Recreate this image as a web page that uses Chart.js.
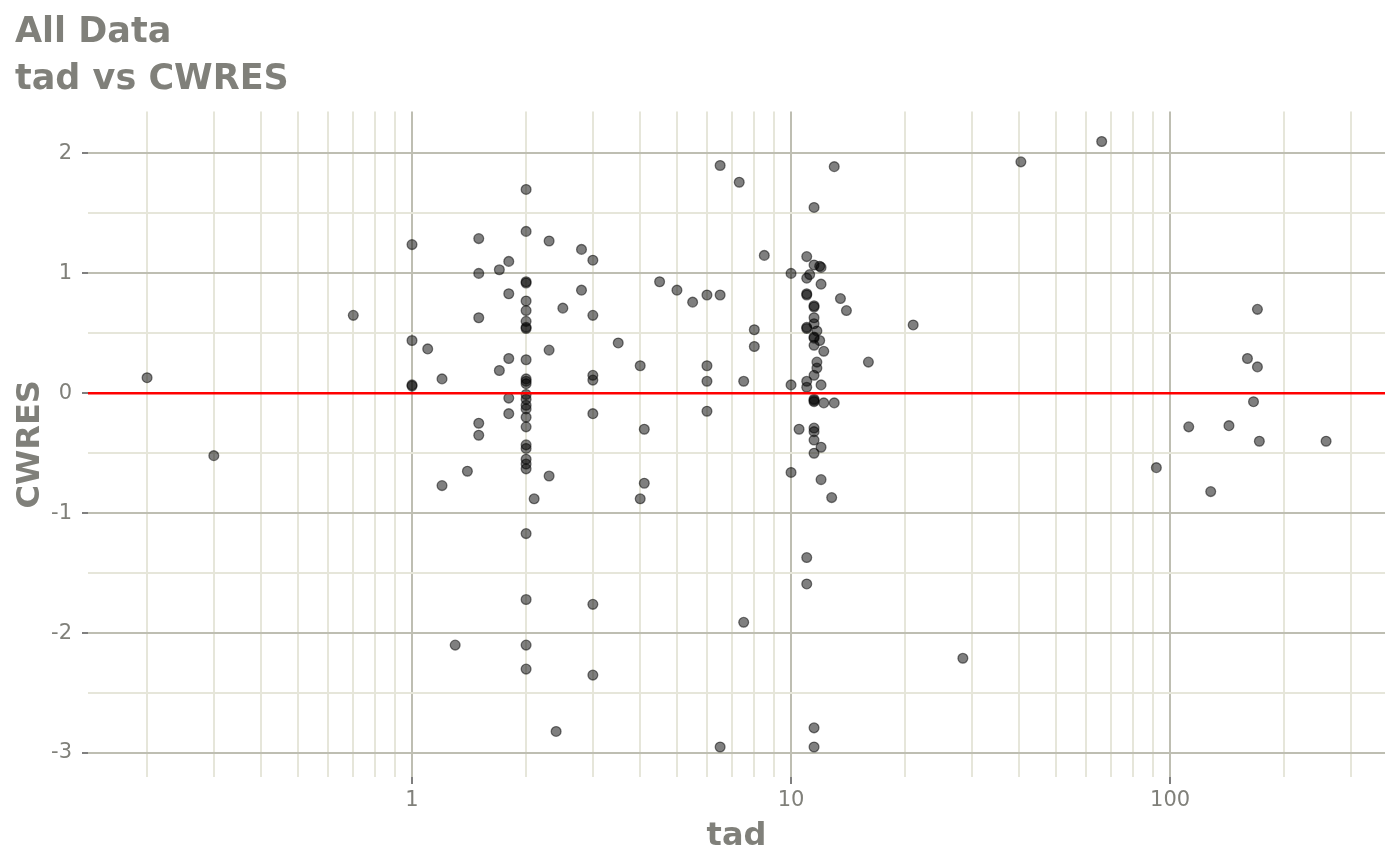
<!DOCTYPE html>
<html>
<head>
<meta charset="utf-8">
<script src="https://cdn.jsdelivr.net/npm/chart.js@4.4.1/dist/chart.umd.min.js"></script>
<style>
  html, body { margin: 0; padding: 0; background: #fff; }
  #wrap { width: 1400px; height: 865px; }
</style>
</head>
<body>
<div id="wrap"><canvas id="tad-cwres" width="1400" height="865"></canvas></div>
<script>
// time after dose (x) and conditional weighted residuals (y), one entry per observation
const tad = [
  0.2, 0.3, 0.7,
  1, 1, 1, 1, 1.1, 1.2, 1.2, 1.3, 1.4,
  1.5, 1.5, 1.5, 1.5, 1.5, 1.7, 1.7,
  1.8, 1.8, 1.8, 1.8, 1.8,
  2, 2, 2, 2, 2, 2, 2, 2, 2, 2, 2, 2, 2, 2,
  2, 2, 2, 2, 2, 2, 2, 2, 2, 2, 2, 2, 2, 2,
  2.1, 2.3, 2.3, 2.3, 2.4, 2.5, 2.8, 2.8,
  3, 3, 3, 3, 3, 3, 3, 3.5, 4, 4, 4.1, 4.1, 4.5, 5, 5.5,
  6, 6, 6, 6, 6.5, 6.5, 6.5, 7.3, 7.5, 7.5, 8, 8, 8.5,
  10, 10, 10, 10.5,
  11, 11, 11, 11, 11, 11, 11, 11, 11, 11, 11.2,
  11.5, 11.5, 11.5, 11.5, 11.5, 11.5, 11.5, 11.5, 11.5, 11.5,
  11.5, 11.5, 11.5, 11.5, 11.5, 11.5, 11.5, 11.5, 11.5,
  11.7, 11.7, 11.7, 11.9, 11.9, 12, 12, 12, 12, 12, 12.2, 12.2,
  12.8, 13, 13, 13.5, 14, 16, 21, 28.4, 40.4, 66,
  92, 112, 128, 143, 160, 166, 170, 170, 172, 258
];
const cwres = [
  0.13, -0.52, 0.65,
  1.24, 0.44, 0.07, 0.06, 0.37, 0.12, -0.77, -2.10, -0.65,
  1.29, 1.00, 0.63, -0.25, -0.35, 1.03, 0.19,
  1.10, 0.83, 0.29, -0.04, -0.17,
  1.70, 1.35, 0.93, 0.92, 0.77, 0.69, 0.60, 0.55, 0.54, 0.28, 0.12, 0.10, 0.08, -0.01,
  -0.05, -0.10, -0.13, -0.20, -0.28, -0.43, -0.46, -0.55, -0.59, -0.63, -1.17, -1.72, -2.10, -2.30,
  -0.88, 1.27, 0.36, -0.69, -2.82, 0.71, 1.20, 0.86,
  1.11, 0.65, 0.15, 0.11, -0.17, -1.76, -2.35, 0.42, 0.23, -0.88, -0.30, -0.75, 0.93, 0.86, 0.76,
  0.82, 0.23, 0.10, -0.15, 1.90, 0.82, -2.95, 1.76, 0.10, -1.91, 0.53, 0.39, 1.15,
  1.00, 0.07, -0.66, -0.30,
  1.14, 0.96, 0.83, 0.82, 0.55, 0.54, 0.10, 0.05, -1.37, -1.59, 0.99,
  1.55, 1.07, 0.73, 0.72, 0.63, 0.58, 0.47, 0.46, 0.40, 0.15,
  -0.05, -0.06, -0.07, -0.29, -0.32, -0.39, -0.50, -2.79, -2.95,
  0.52, 0.26, 0.21, 1.06, 0.44, 1.05, 0.91, 0.07, -0.45, -0.72, 0.35, -0.08,
  -0.87, 1.89, -0.08, 0.79, 0.69, 0.26, 0.57, -2.21, 1.93, 2.10,
  -0.62, -0.28, -0.82, -0.27, 0.29, -0.07, 0.70, 0.22, -0.40, -0.40
];

const xMajor = [1, 10, 100];
const xMinor = [0.2, 0.3, 0.4, 0.5, 0.6, 0.7, 0.8, 0.9,
                2, 3, 4, 5, 6, 7, 8, 9,
                20, 30, 40, 50, 60, 70, 80, 90,
                200, 300];
const yMajor = [-3, -2, -1, 0, 1, 2];
const yMinor = [-2.5, -1.5, -0.5, 0.5, 1.5];
const xLimits = [0.1397, 369];
const yLimits = [-3.2, 2.35];
const refLine = 0;

const textCol = '#80807a';
const majorGrid = '#bebeb2';
const minorGrid = '#e6e6da';
const tickCol = '#7f7f7f';
const fam = '"DejaVu Sans", sans-serif';

const points = tad.map((t, i) => ({ x: t, y: cwres[i] }));
const xTicks = xMinor.concat(xMajor).sort((a, b) => a - b);
const yTicks = yMinor.concat(yMajor).sort((a, b) => a - b);

new Chart(document.getElementById('tad-cwres'), {
  type: 'scatter',
  data: {
    datasets: [
      {
        // y = 0 reference line
        data: [{ x: xLimits[0], y: refLine }, { x: xLimits[1], y: refLine }],
        showLine: true,
        borderColor: '#ff0000',
        borderWidth: 2.6,
        pointRadius: 0,
        order: 0
      },
      {
        data: points,
        backgroundColor: 'rgba(0,0,0,0.5)',
        borderColor: 'rgba(0,0,0,0.5)',
        borderWidth: 1.3,
        pointRadius: 4.9,
        pointHoverRadius: 4.9,
        order: 1
      }
    ]
  },
  options: {
    responsive: false,
    animation: false,
    devicePixelRatio: 1,
    layout: { padding: { left: 15, right: 15, top: 0, bottom: 0 } },
    plugins: {
      legend: { display: false },
      tooltip: { enabled: false },
      title: {
        display: true,
        text: ['All Data', 'tad vs CWRES'],
        align: 'start',
        color: textCol,
        font: { family: fam, size: 35, weight: 'bold', lineHeight: 1.35 },
        padding: { top: 9, bottom: 8 }
      }
    },
    scales: {
      x: {
        type: 'logarithmic',
        min: xLimits[0],
        max: xLimits[1],
        afterBuildTicks: s => { s.ticks = xTicks.map(v => ({ value: v })); },
        afterFit: s => { s.height = 88; },
        border: { display: false },
        grid: {
          lineWidth: 2,
          color: c => xMajor.includes(c.tick.value) ? majorGrid : minorGrid,
          tickColor: c => xMajor.includes(c.tick.value) ? tickCol : 'rgba(0,0,0,0)',
          tickLength: 7,
          tickWidth: 2
        },
        ticks: {
          autoSkip: false,
          maxRotation: 0,
          padding: 4,
          color: textCol,
          font: { family: fam, size: 21 },
          callback: v => xMajor.includes(v) ? String(v) : ''
        },
        title: {
          display: true,
          text: 'tad',
          color: textCol,
          font: { family: fam, size: 32, weight: 'bold' },
          padding: { top: 0, bottom: 9 }
        }
      },
      y: {
        min: yLimits[0],
        max: yLimits[1],
        afterBuildTicks: s => { s.ticks = yTicks.map(v => ({ value: v })); },
        afterFit: s => { s.width = 73; },
        border: { display: false },
        grid: {
          lineWidth: 2,
          color: c => yMajor.includes(c.tick.value) ? majorGrid : minorGrid,
          tickColor: c => yMajor.includes(c.tick.value) ? tickCol : 'rgba(0,0,0,0)',
          tickLength: 6,
          tickWidth: 2
        },
        ticks: {
          autoSkip: false,
          padding: 10,
          color: textCol,
          font: { family: fam, size: 21 },
          callback: v => yMajor.includes(v) ? String(v) : ''
        },
        title: {
          display: true,
          text: 'CWRES',
          color: textCol,
          font: { family: fam, size: 32, weight: 'bold', lineHeight: 1 },
          padding: 0
        }
      }
    }
  }
});
</script>
</body>
</html>
